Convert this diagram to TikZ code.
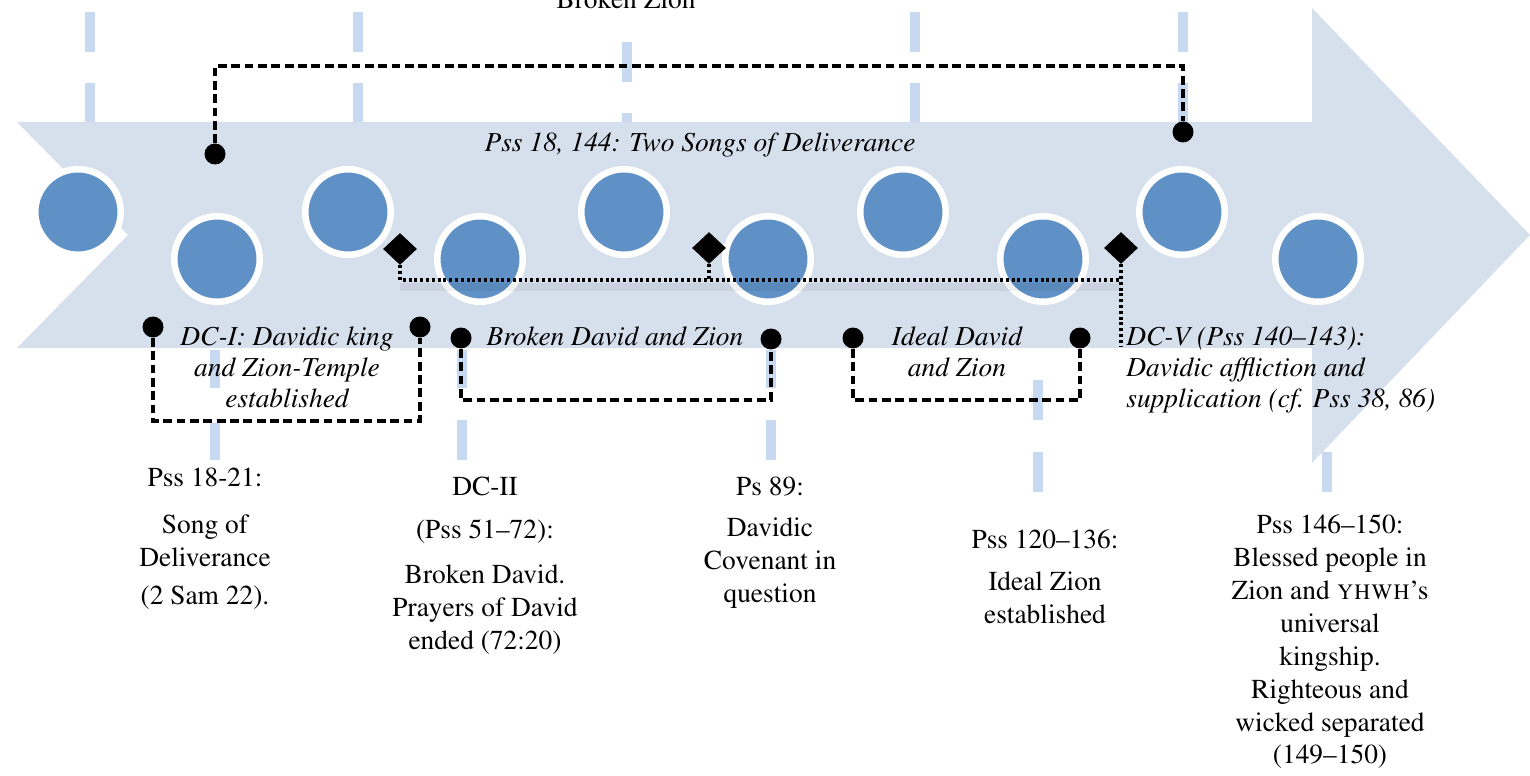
\documentclass[tikz,border=0pt]{standalone}
\usepackage[T1]{fontenc}
\usepackage{times}
\usepackage{xcolor}
\usetikzlibrary{shapes.geometric}
\definecolor{arrowgrey}{RGB}{214,223,236}
\definecolor{stopblue}{RGB}{95,145,199}
\definecolor{guideblue}{RGB}{198,217,240}

\begin{document}
\begin{tikzpicture}[x=0.02cm,y=-0.02cm,
  station/.style={circle,fill=stopblue,draw=white,line width=0.13cm,minimum size=1.71cm,inner sep=0pt},
  knob/.style={circle,fill=black,minimum size=0.42cm,inner sep=0pt},
  gem/.style={diamond,fill=black,minimum width=0.68cm,minimum height=0.64cm,inner sep=0pt},
  guide/.style={guideblue,line width=0.2cm},
  dashline/.style={black,line width=1.8pt,dash pattern=on 5pt off 2.6pt},
  dotline/.style={black,line width=1.8pt,dash pattern=on 1.7pt off 1.6pt},
  tag/.style={font=\fontsize{15.6}{17.6}\selectfont\itshape,align=center,inner sep=0pt},
  psalm/.style={font=\fontsize{15.6}{18.7}\selectfont,align=center,inner sep=0pt}]
\useasboundingbox (0,0) rectangle (1530,776);
\foreach \x/\a/\b in {90/12/52,90/83/122,358/12/52,358/83/122,627/42/82,627/113/122,
  915/12/52,915/83/122,1183/12/52,1183/83/122,215/350/388,215/423/460,462/350/388,
  462/420/460,771/350/388,771/420/460,1038/380/420,1038/452/492,1327/452/492}
  \draw[guide] (\x,\a) -- (\x,\b);
\fill[arrowgrey] (17,122) -- (1312,122) -- (1312,8) -- (1530,235) -- (1312,463)
  -- (1312,348) -- (17,348) -- (128,235) -- cycle;
\foreach \n/\x/\y in {1/78/212,2/217/259,3/348/212,4/480/259,5/624/212,
  6/768/259,7/903/212,8/1043/259,9/1182/212,10/1318/259}
  \node[station] (s\n) at (\x,\y) {};
\node[psalm,anchor=base] (brokenzion) at (626,9) {Broken Zion};
\node[tag,anchor=base] (songs) at (700,152) {Pss 18, 144: Two Songs of Deliverance};
\node[knob] (k1) at (215,154) {};
\node[knob] (k2) at (1183,132) {};
\node[knob] (k3) at (153,327) {};
\node[knob] (k4) at (420,327) {};
\node[knob] (k5) at (461,338) {};
\node[knob] (k6) at (771,339) {};
\node[knob] (k7) at (853,338) {};
\node[knob] (k8) at (1080,338) {};
\node[gem] (g1) at (400,249) {};
\node[gem] (g2) at (709,248) {};
\node[gem] (g3) at (1121,248) {};
\coordinate (overbar) at (0,66);
\coordinate (dcibar) at (0,421);
\coordinate (brokenbar) at (0,400);
\coordinate (idealbar) at (0,400);
\coordinate (chainbar) at (0,280);
\coordinate (shadowbar) at (0,287);
\coordinate (dcvend) at (1121,347);
\draw[dashline] (k1) -- (k1 |- overbar) -| (k2);
\draw[dashline] (k3) -- (k3 |- dcibar) -| (k4);
\draw[dashline] (k5) -- (k5 |- brokenbar) -| (k6);
\draw[dashline] (k7) -- (k7 |- idealbar) -| (k8);
\draw[black,opacity=0.06,line width=5pt] (g1 |- shadowbar) -- (shadowbar -| g3);
\draw[dotline] (g1) -- (g1 |- chainbar) -- (chainbar -| g3);
\draw[dotline] (g2) -- (g2 |- chainbar);
\draw[dotline] (g3) -- (dcvend);
\node[tag,anchor=north] (dci) at (287,327) {DC-I: Davidic king\\and Zion-Temple\\established};
\node[tag,anchor=base] (broken) at (615,346) {Broken David and Zion};
\node[tag,anchor=north] (ideal) at (957,327) {Ideal David\\and Zion};
\node[tag,anchor=north west,align=left] (dcv) at (1126,327) {DC-V (Pss 140--143):\\Davidic affliction and\\supplication (cf. Pss 38, 86)};
\node[psalm,anchor=north] (p1) at (205,468) {Pss 18-21:\\[8pt]Song of\\Deliverance\\[3pt](2 Sam 22).};
\node[psalm,anchor=north] (p2) at (485,477) {DC-II\\[5.7pt](Pss 51--72):\\[6.8pt]Broken David.\\Prayers of David\\ended (72:20)};
\node[psalm,anchor=north] (p3) at (770,477) {Ps 89:\\[4.5pt]Davidic\\Covenant in\\question};
\node[psalm,anchor=north] (p4) at (1045,530) {Pss 120--136:\\[5pt]Ideal Zion\\established};
\node[psalm,anchor=north] (p5) at (1330,515) {Pss 146--150:\\Blessed people in\\Zion and \textsc{yhwh}'s\\universal\\kingship.\\Righteous and\\wicked separated\\(149--150)};
\end{tikzpicture}
\end{document}
